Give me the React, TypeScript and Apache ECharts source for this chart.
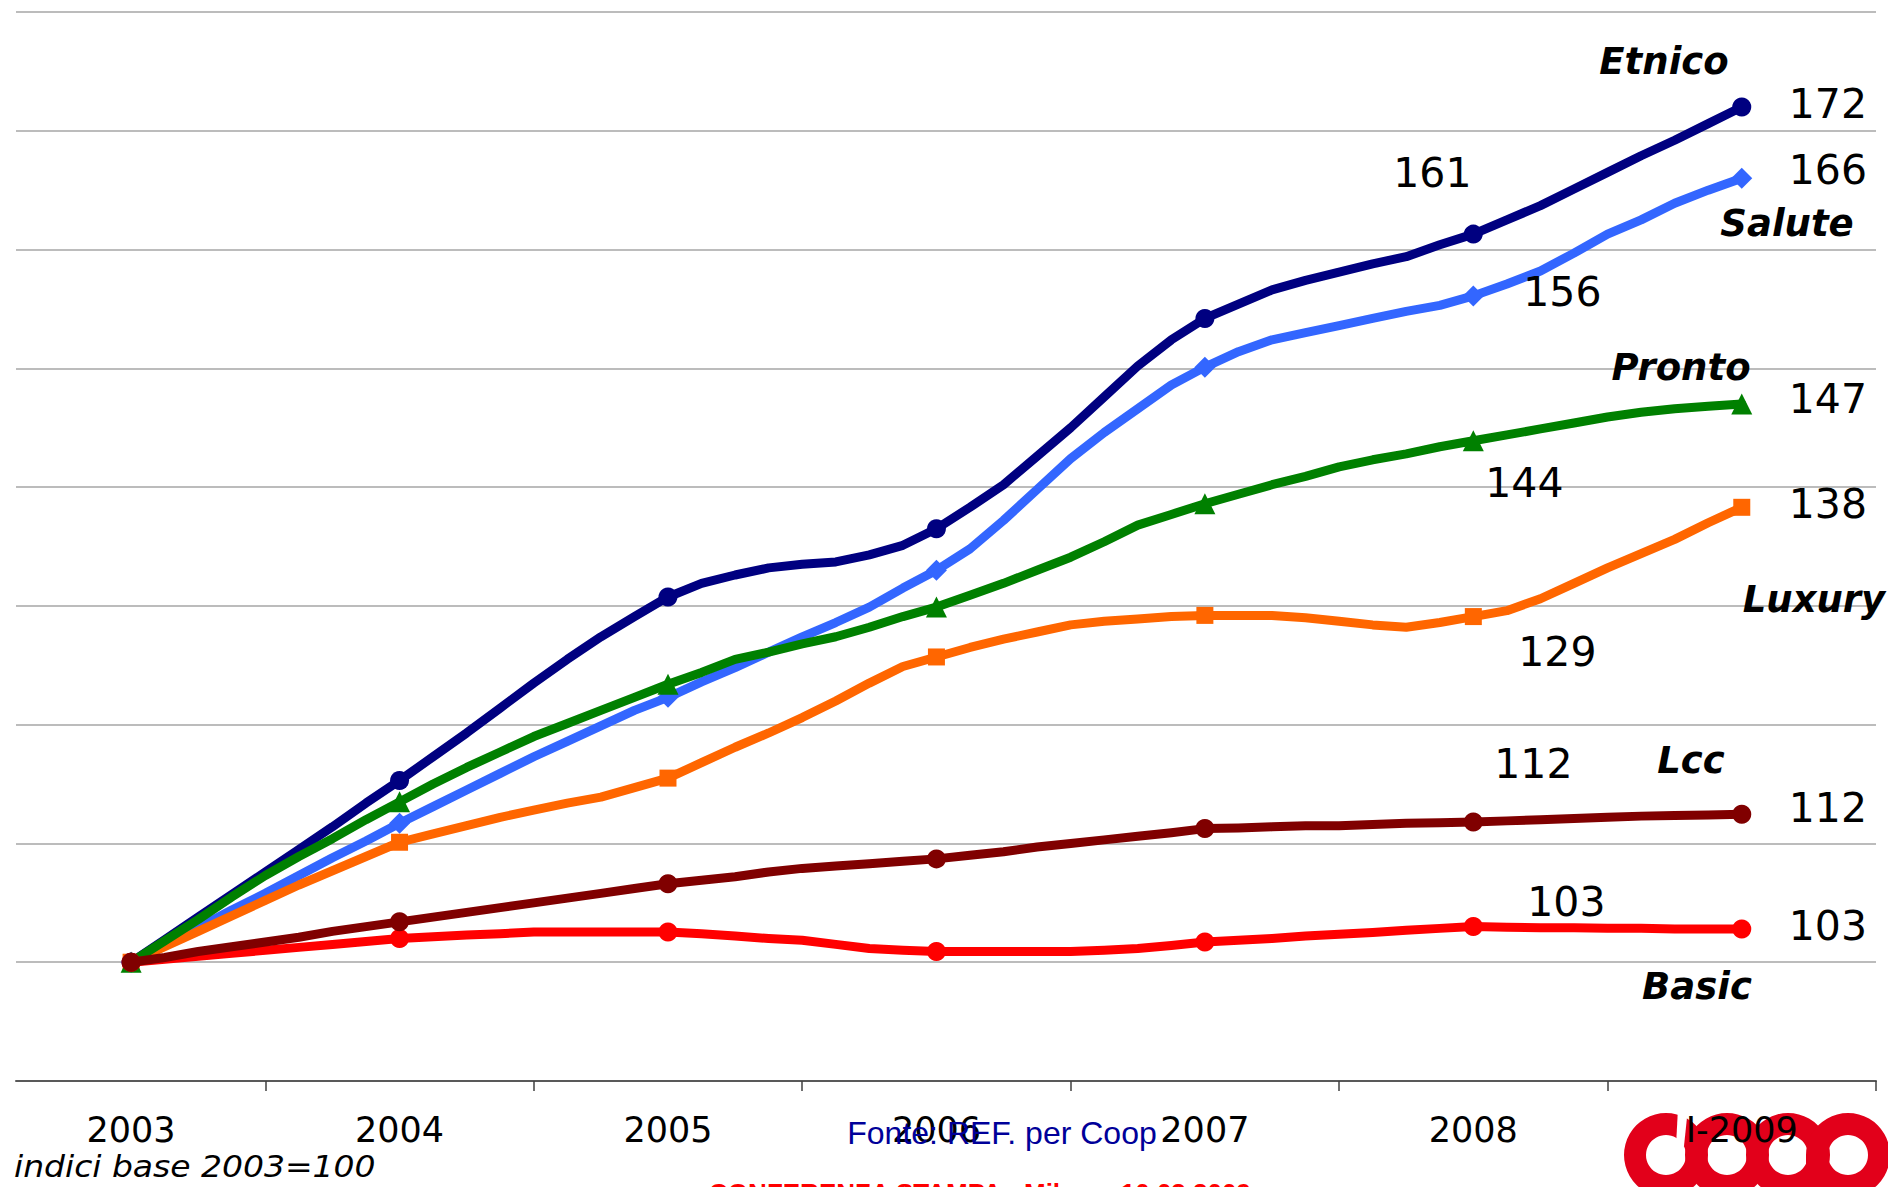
import React, { useEffect, useRef } from 'react';
import * as echarts from 'echarts';

// Category labels (one per year) and sub-period resolution (8 readings per year)
const yearLabels = ['2003', '2004', '2005', '2006', '2007', '2008', 'I-2009'];
const pointsPerYear = 8;

// Index values (base 2003 = 100)
const etnico = [
  100, 101.9, 103.8, 105.7, 107.6, 109.5, 111.4, 113.4, 115.3,
  117.3, 119.3, 121.4, 123.5, 125.5, 127.4, 129.1, 130.75,
  131.9, 132.6, 133.2, 133.5, 133.7, 134.3, 135.1, 136.5,
  138.3, 140.2, 142.6, 145.0, 147.6, 150.2, 152.4, 154.2,
  155.4, 156.6, 157.4, 158.1, 158.8, 159.4, 160.4, 161.3,
  162.5, 163.7, 165.1, 166.5, 167.9, 169.2, 170.6, 172,
];
const salute = [
  100, 101.5, 102.9, 104.4, 105.8, 107.3, 108.8, 110.2, 111.7,
  113.1, 114.5, 115.9, 117.3, 118.6, 119.9, 121.2, 122.3,
  123.6, 124.8, 126.1, 127.4, 128.6, 129.9, 131.5, 133.0,
  134.8, 137.2, 139.8, 142.4, 144.6, 146.6, 148.6, 150.1,
  151.4, 152.4, 153.0, 153.6, 154.2, 154.8, 155.3, 156.1,
  157.1, 158.2, 159.7, 161.3, 162.5, 163.9, 165.0, 166,
];
const pronto = [
  100, 101.8, 103.6, 105.5, 107.3, 108.9, 110.4, 112.0, 113.5,
  115.0, 116.4, 117.7, 119.0, 120.1, 121.2, 122.3, 123.4,
  124.4, 125.5, 126.1, 126.8, 127.4, 128.2, 129.1, 129.9,
  130.9, 131.9, 133.0, 134.1, 135.4, 136.8, 137.7, 138.6,
  139.4, 140.2, 140.9, 141.7, 142.3, 142.8, 143.4, 143.9,
  144.4, 144.9, 145.4, 145.9, 146.3, 146.6, 146.8, 147,
];
const luxury = [
  100, 101.3, 102.6, 103.9, 105.2, 106.5, 107.7, 108.9, 110.1,
  110.8, 111.5, 112.2, 112.8, 113.4, 113.9, 114.7, 115.5,
  116.8, 118.1, 119.3, 120.6, 122.0, 123.5, 124.9, 125.7,
  126.5, 127.2, 127.8, 128.4, 128.7, 128.9, 129.1, 129.2,
  129.2, 129.2, 129.0, 128.7, 128.4, 128.2, 128.6, 129.1,
  129.6, 130.6, 131.9, 133.2, 134.4, 135.6, 137.0, 138.3,
];
const lcc = [
  100, 100.4, 100.9, 101.3, 101.7, 102.1, 102.6, 103.0, 103.4,
  103.8, 104.2, 104.6, 105.0, 105.4, 105.8, 106.2, 106.6,
  106.9, 107.2, 107.6, 107.9, 108.1, 108.3, 108.5, 108.7,
  109.0, 109.3, 109.7, 110.0, 110.3, 110.6, 110.9, 111.25,
  111.3, 111.4, 111.5, 111.5, 111.6, 111.7, 111.75, 111.8,
  111.9, 112.0, 112.1, 112.2, 112.3, 112.35, 112.4, 112.45,
];
const basic = [
  100, 100.25, 100.5, 100.75, 101.0, 101.25, 101.5, 101.75, 102.0,
  102.15, 102.3, 102.4, 102.55, 102.55, 102.55, 102.55, 102.55,
  102.4, 102.2, 102.0, 101.85, 101.5, 101.15, 101.0, 100.9,
  100.9, 100.9, 100.9, 100.9, 101.0, 101.15, 101.4, 101.7,
  101.85, 102.0, 102.2, 102.35, 102.5, 102.7, 102.85, 103.0,
  102.95, 102.9, 102.9, 102.85, 102.85, 102.8, 102.8, 102.8,
];

const seriesDefs = [
  { name: 'Etnico', data: etnico, color: '#000080', symbol: 'circle', size: 19, mid: [-41, -61], endDy: -3 },
  { name: 'Salute', data: salute, color: '#3366FF', symbol: 'diamond', size: 21, mid: [89, -4], endDy: -8 },
  { name: 'Luxury', data: luxury, color: '#FF6600', symbol: 'rect', size: 17, mid: [84, 35], endDy: -3 },
  { name: 'Pronto', data: pronto, color: '#008000', symbol: 'triangle', size: 21, mid: [51, 42], endDy: -5 },
  { name: 'Basic', data: basic, color: '#FF0000', symbol: 'circle', size: 19, mid: [93, -25], endDy: -3 },
  { name: 'Lcc', data: lcc, color: '#800000', symbol: 'circle', size: 19, mid: [60, -58], endDy: -6 },
];

const nameTags = [
  { text: 'Etnico', x: 1664, y: 61 },
  { text: 'Salute', x: 1787, y: 223 },
  { text: 'Pronto', x: 1681, y: 367 },
  { text: 'Luxury', x: 1814, y: 599 },
  { text: 'Lcc', x: 1691, y: 760 },
  { text: 'Basic', x: 1697, y: 986 },
];

const midIndex = 5 * pointsPerYear;
const endIndex = 6 * pointsPerYear;

export default function App() {
  const ref = useRef<HTMLDivElement>(null);

  useEffect(() => {
    if (!ref.current) return;
    const chart = echarts.init(ref.current, null, { renderer: 'svg' });

    const series = seriesDefs.map((s, idx) => ({
      type: 'line',
      name: s.name,
      z: 2 + idx,
      data: s.data.map((v, j) => {
        const item: any = { value: [j, v] };
        if (j === midIndex) {
          item.label = { show: true, position: 'inside', align: 'center', verticalAlign: 'middle', offset: s.mid };
        }
        if (j === endIndex) {
          item.label = { show: true, position: 'inside', align: 'left', verticalAlign: 'middle', offset: [47, s.endDy] };
        }
        return item;
      }),
      symbol: s.symbol,
      symbolSize: (_v: any, params: any) => (params.dataIndex % pointsPerYear === 0 ? s.size : 0),
      showSymbol: true,
      showAllSymbol: true,
      lineStyle: { color: s.color, width: 9, cap: 'round', join: 'round' },
      itemStyle: { color: s.color },
      label: {
        show: false,
        formatter: (p: any) => String(Math.round(p.value[1])),
        color: '#000',
        fontSize: 41,
        fontFamily: 'DejaVu Sans',
      },
      emphasis: { disabled: true },
      clip: false,
    }));

    const graphics: any[] = [];
    // coop logo (bottom right, partly cut off)
    const logoRed = '#E2001A';
    [1666, 1727, 1788, 1848].forEach((cx) => {
      graphics.push({ type: 'ring', z: -1, shape: { cx, cy: 1155, r: 42, r0: 20 }, style: { fill: logoRed } });
    });
    graphics.push({ type: 'rect', z: -1, shape: { x: 1806, y: 1155, width: 22, height: 40 }, style: { fill: logoRed } });
    graphics.push({
      type: 'polygon', z: -1,
      shape: { points: [[1678, 1108], [1688, 1108], [1684, 1146], [1676, 1146]] },
      style: { fill: '#ffffff' },
    });

    nameTags.forEach((t) => {
      graphics.push({
        type: 'text', x: t.x, y: t.y, z: 10,
        style: {
          text: t.text, fill: '#000', fontSize: 37, fontWeight: 'bold', fontStyle: 'italic',
          fontFamily: 'DejaVu Sans', align: 'center', verticalAlign: 'middle',
        },
      });
    });
    graphics.push({
      type: 'text', x: 1002, y: 1133, z: 10,
      style: { text: 'Fonte: REF. per Coop', fill: '#000099', fontSize: 32, fontFamily: 'Liberation Sans', align: 'center', verticalAlign: 'middle' },
    });
    graphics.push({
      type: 'text', x: 14, y: 1167, z: 10, scaleX: 1.1,
      style: { text: 'indici base 2003=100', fill: '#000', fontSize: 30, fontStyle: 'italic', fontFamily: 'DejaVu Sans', align: 'left', verticalAlign: 'middle' },
    });
    graphics.push({
      type: 'text', x: 980, y: 1180, z: 10,
      style: { text: 'CONFERENZA STAMPA - Milano, 10.03.2009', fill: '#FF0000', fontSize: 26, fontWeight: 'bold', fontFamily: 'Liberation Sans', align: 'center', verticalAlign: 'top' },
    });

    chart.setOption({
      animation: false,
      backgroundColor: '#ffffff',
      textStyle: { fontFamily: 'DejaVu Sans' },
      grid: { left: 16, right: 12, top: 12, bottom: 106, containLabel: false },
      xAxis: {
        type: 'value',
        min: -3.43,
        max: 52,
        splitLine: { show: false },
        axisLine: { show: true, onZero: false, lineStyle: { color: '#595959', width: 2 } },
        axisTick: {
          show: true,
          length: 10,
          customValues: [4, 12, 20, 28, 36, 44, 52],
          lineStyle: { color: '#404040', width: 1.5 },
        },
        axisLabel: {
          show: true,
          customValues: [0, 8, 16, 24, 32, 40, 48],
          formatter: (v: number) => yearLabels[Math.round(v / pointsPerYear)] ?? '',
          color: '#000',
          fontSize: 35,
          fontFamily: 'DejaVu Sans',
          margin: 31,
        },
      },
      yAxis: {
        type: 'value',
        min: 90,
        max: 180,
        interval: 10,
        axisLabel: { show: false },
        axisTick: { show: false },
        axisLine: { show: false },
        splitLine: { show: true, lineStyle: { color: '#A6A6A6', width: 1.5 } },
      },
      series,
      graphic: { elements: graphics },
    });

    return () => chart.dispose();
  }, []);

  return (
    <div
      ref={ref}
      style={{ position: 'fixed', left: 0, top: 0, width: '1888px', height: '1187px', background: '#fff' }}
    />
  );
}
